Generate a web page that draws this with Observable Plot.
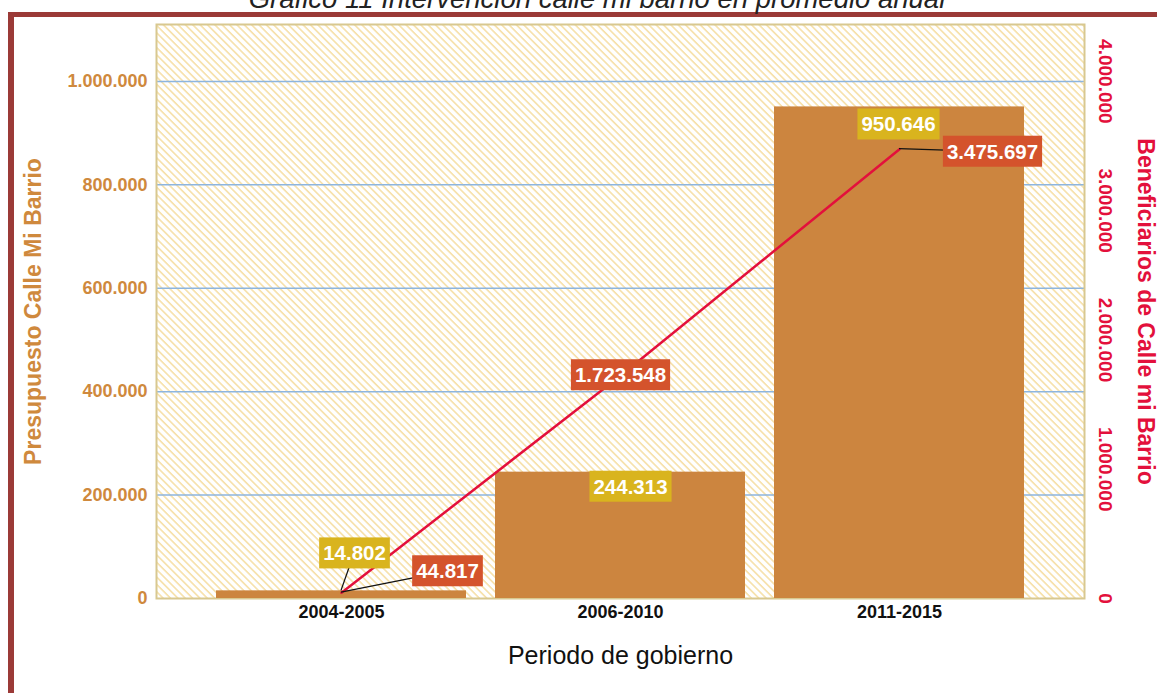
<!DOCTYPE html>
<html>
<head>
<meta charset="utf-8">
<script src="https://cdn.jsdelivr.net/npm/d3@7"></script>
<script src="https://cdn.jsdelivr.net/npm/@observablehq/plot@0.6"></script>
<style>
  html, body { margin: 0; padding: 0; background: #fff; }
  body { width: 1157px; height: 693px; overflow: hidden; position: relative; font-family: "Liberation Sans", Arial, sans-serif; }
  #border { position: absolute; left: 8px; top: 12px; right: -20px; bottom: -20px;
            border-top: 5.5px solid #9b3a37; border-left: 6px solid #9b3a37; }
  #title { position: absolute; top: -15px; left: 0; width: 1194px; text-align: center;
           font-style: italic; font-size: 27.5px; line-height: 27.5px; color: #222; white-space: nowrap; }
  #chart { position: absolute; left: 0; top: 0; }
</style>
</head>
<body>
<div id="border"></div>
<div id="title">Gráfico 11 Intervención calle mi barrio en promedio anual</div>
<div id="chart"></div>
<script>
// ---- data ----
const periods = ["2004-2005", "2006-2010", "2011-2015"];
const budget = [14802, 244313, 950646];            // Presupuesto Calle Mi Barrio (left axis)
const beneficiaries = [44817, 1723548, 3475697];   // Beneficiarios (right axis)
const leftTicks = [0, 200000, 400000, 600000, 800000, 1000000];
const rightTicks = [0, 1000000, 2000000, 3000000, 4000000];
const leftTitle = "Presupuesto Calle Mi Barrio";
const rightTitle = "Beneficiarios de Calle mi Barrio";
const xTitle = "Periodo de gobierno";

// ---- layout / style ----
const ratio = 4; // right axis = left axis * 4
const orange = "#cf893d", crimson = "#e3103c", barColor = "#cc853f";
const yellowBox = "#d9b41e", redBox = "#d4532c";
const budgetOffsets = [[13, -37], [10, 15], [-1, 18]];
const benefOffsets = [[106, -21], [0, 0], [93, 3]];
const budgetLeader = [true, false, false];
const benefLeader = [true, false, true];

const fmt = d3.formatLocale({decimal: ",", thousands: ".", grouping: [3], currency: ["", ""]}).format(",d");
const rows = periods.map((p, i) => ({period: p, budget: budget[i], benef: beneficiaries[i]}));

const font = "Liberation Sans, Arial, sans-serif";
const labelMarks = [];
rows.forEach((r, i) => {
  labelMarks.push(Plot.text([r], {x: "period", y: "budget", text: d => fmt(d.budget),
    dx: budgetOffsets[i][0], dy: budgetOffsets[i][1], fill: "white", fontSize: 20.5, fontWeight: "bold"}));
});
rows.forEach((r, i) => {
  labelMarks.push(Plot.text([r], {x: "period", y: d => d.benef / ratio, text: d => fmt(d.benef),
    dx: benefOffsets[i][0], dy: benefOffsets[i][1], fill: "white", fontSize: 20.5, fontWeight: "bold"}));
});

const plot = Plot.plot({
  width: 1157, height: 693,
  marginLeft: 156, marginRight: 73, marginTop: 24, marginBottom: 95,
  style: {fontFamily: font, background: "transparent", overflow: "visible"},
  x: {domain: periods, paddingInner: 0.104, paddingOuter: 0.215, axis: null},
  y: {domain: [0, 1110000], axis: null},
  marks: [
    Plot.frame({fill: "url(#hatch)", stroke: "none"}),
    Plot.ruleY(leftTicks.slice(1), {stroke: "#8db5de", strokeWidth: 1.5}),
    Plot.frame({stroke: "#d8c890", strokeWidth: 2}),
    Plot.barY(rows, {x: "period", y: "budget", fill: barColor}),
    Plot.line(rows, {x: "period", y: d => d.benef / ratio, stroke: crimson, strokeWidth: 2.5}),
    // left axis
    Plot.text(leftTicks, {y: d => d, text: d => fmt(d), frameAnchor: "left", textAnchor: "end", dx: -9,
      fill: orange, fontSize: 18, fontWeight: "bold"}),
    // right axis
    Plot.text(rightTicks, {y: d => d / ratio, text: d => fmt(d), frameAnchor: "right", dx: 21, rotate: 90,
      textAnchor: "middle", fill: crimson, fontSize: 19, fontWeight: "bold"}),
    // x axis
    Plot.text(periods, {x: d => d, text: d => d, frameAnchor: "bottom", dy: 19,
      fill: "#111", fontSize: 18, fontWeight: "bold"}),
    // axis titles
    Plot.text([xTitle], {text: d => d, frameAnchor: "bottom", dy: 65, textAnchor: "middle", fill: "#111", fontSize: 25}),
    Plot.text([leftTitle], {text: d => d, frameAnchor: "left", dx: -123, rotate: -90, textAnchor: "middle",
      fill: orange, fontSize: 23, fontWeight: "bold"}),
    Plot.text([rightTitle], {text: d => d, frameAnchor: "right", dx: 61, rotate: 90, textAnchor: "middle",
      fill: crimson, fontSize: 23, fontWeight: "bold"}),
    ...labelMarks
  ]
});

document.getElementById("chart").appendChild(plot);

// hatch pattern
const svg = d3.select(plot);
const defs = svg.insert("defs", ":first-child");
const pat = defs.append("pattern").attr("id", "hatch").attr("patternUnits", "userSpaceOnUse")
  .attr("width", 5.2).attr("height", 5.2).attr("patternTransform", "rotate(45)");
pat.append("rect").attr("width", 5.2).attr("height", 5.2).attr("fill", "#ffffff");
pat.append("rect").attr("width", 5.2).attr("height", 1.6).attr("fill", "#f6e0a8");

// find rendered value labels by their text
const allTexts = Array.from(plot.querySelectorAll("text"));
const findText = s => allTexts.find(t => t.textContent === s);
const budgetTexts = budget.map(v => findText(fmt(v)));
const benefTexts = beneficiaries.map(v => findText(fmt(v)));

// leader lines (from data anchor to label centre, beneath the boxes)
const xs = plot.scale("x"), ys = plot.scale("y");
const bw = xs.bandwidth || 0;
const firstG = budgetTexts[0].parentNode;
const leaders = d3.create("svg:g").attr("stroke", "#111").attr("stroke-width", 1.3);
rows.forEach((r, i) => {
  const px = xs.apply(r.period) + bw / 2;
  if (budgetLeader[i]) {
    const py = ys.apply(r.budget);
    leaders.append("line").attr("x1", px).attr("y1", py)
      .attr("x2", px + budgetOffsets[i][0]).attr("y2", py + budgetOffsets[i][1]);
  }
  if (benefLeader[i]) {
    const py = ys.apply(r.benef / ratio);
    leaders.append("line").attr("x1", px).attr("y1", py)
      .attr("x2", px + benefOffsets[i][0]).attr("y2", py + benefOffsets[i][1]);
  }
});
firstG.parentNode.insertBefore(leaders.node(), firstG);

// label boxes
function boxes(texts, color) {
  texts.forEach(t => {
    if (!t) return;
    const b = t.getBBox();
    const r = document.createElementNS("http://www.w3.org/2000/svg", "rect");
    r.setAttribute("x", b.x - 4); r.setAttribute("y", b.y - 4);
    r.setAttribute("width", b.width + 8); r.setAttribute("height", b.height + 8);
    r.setAttribute("fill", color);
    const tr = t.getAttribute("transform");
    if (tr) r.setAttribute("transform", tr);
    t.parentNode.insertBefore(r, t);
  });
}
boxes(budgetTexts, yellowBox);
boxes(benefTexts, redBox);
</script>
</body>
</html>
